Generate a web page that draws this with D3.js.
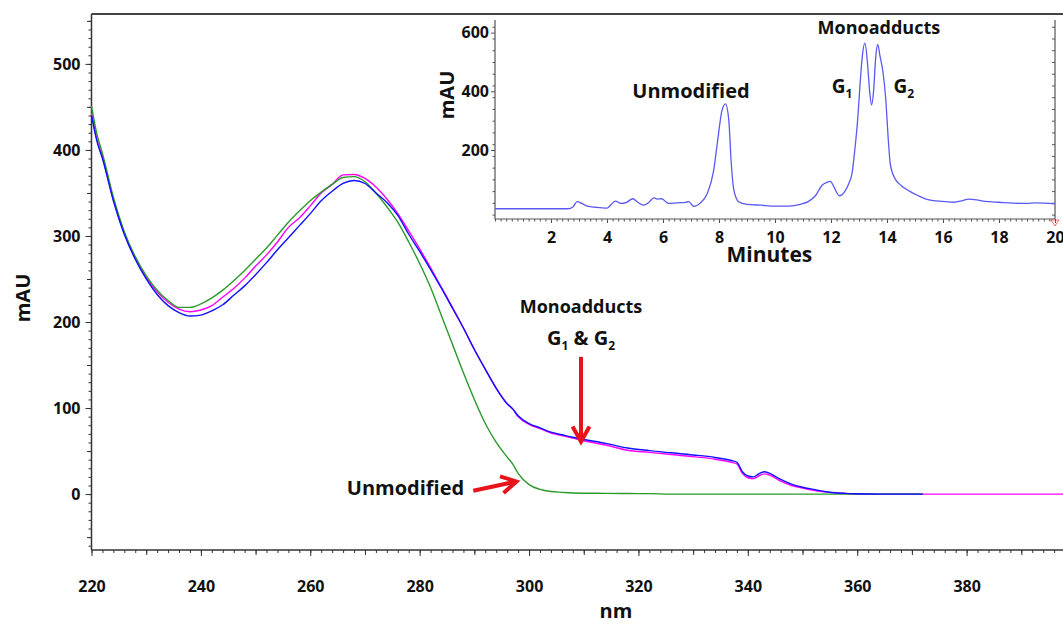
<!DOCTYPE html>
<html>
<head>
<meta charset="utf-8">
<script src="https://cdn.jsdelivr.net/npm/d3@7"></script>
<style>
  body { margin: 0; background: #fff; }
  text { font-family: "Open Sans", sans-serif; font-weight: bold; fill: #111; }
</style>
</head>
<body>
<svg id="chart" width="1063" height="625"></svg>
<script>
// UV spectra (nm vs mAU)
var wavelength = [220,221,222,224,226,228,230,232,234,236,238,240,242,244,246,248,250,252,254,256,258,260,262,264,266,268,270,272,274,276,278,280,282,284,286,288,290,292,294,296,297,298,300,302,304,306,308,310,314,318,322,326,330,334,337,338,339,340,341,342,343,344,346,348,350,352,354,356,358,360,364,368,372,380,390,400]
var unmodified = [451,418,396,345,305,276,254,237,225,217,217,221,228,237,248,260,273,286,301,316,329,341,351,360,368,369,363,350,334,316,293,268,240,207,174,141,110,82,60,43,35,24,11,5.5,3,2,1.2,1,0.8,0.6,0.5,0,0,0,0,0,0,0,0,0,0,0,0,0,0,0,0,0,0,0,0,0,0,null,null,null]
var monoG1 = [443,412,392,342,303,274,252,235,223,215,212,214,219,229,239,251,265,278,293,310,321,335,350,360,371,371.5,367,357,343,326,306,285,263,240,217,193,168,145,123,105,99,90,81,76,71,68,65,62,57,51,48.5,46,43.5,40.5,37,35,24,19,18,21,23.5,22,15,10,7,4.5,2.5,1.2,0.5,0,0,0,0,0,0,0]
var monoG2 = [440,410,390,341,302,273,250,232,219,211,207,208,213,220,231,242,255,269,284,298,312,326,341,352,361,364.5,361,350,339,324,302,282,261,239,216,193,168,145,123,105,99,91,82,77,72,69,66,63.5,59,53.5,50.5,48,45.5,42.5,39,37,26,21,20,23.5,26,24,17,11.5,8,5.5,3,1.5,0.8,0.3,0,0,0,null,null,null]

// HPLC chromatogram inset (minutes vs mAU)
var minutes = [0,2.6,2.8,2.93,3.1,3.3,3.6,4.0,4.15,4.3,4.5,4.7,4.92,5.1,5.3,5.5,5.67,5.8,5.95,6.2,6.5,6.8,6.92,7.1,7.34,7.58,7.81,7.94,8.11,8.23,8.35,8.43,8.53,8.7,9.0,9.5,10,10.5,10.9,11.2,11.45,11.68,11.85,11.98,12.1,12.3,12.5,12.64,12.75,12.85,12.95,13.05,13.13,13.21,13.3,13.38,13.45,13.52,13.6,13.67,13.75,13.85,13.95,14.05,14.12,14.3,14.48,14.8,15.08,15.5,16,16.4,16.7,16.92,17.2,17.5,18,18.5,19,19.3,20]
var chromAbs = [0,0,8,24,18,9,5,2,14,26,18,22,34,22,12,22,37,33,34,18,20,22,24,8,20,52,131,224,336,357,302,166,64,24,15,12,9,9,15,25,45,80,90,93,75,44,60,87,120,200,300,440,530,564,500,400,354,400,520,560,520,470,380,230,150,100,81,60,46,30,25,22,28,33,30,25,22,19,18,20,17]

var nmTicks = [220,240,260,280,300,320,340,360,380]
var mauTicks = [0,100,200,300,400,500]
var minuteTicks = [2,4,6,8,10,12,14,16,18,20]
var chromTicks = [200,400,600]

var svg = d3.select("#chart")
var x = d3.scaleLinear().domain([220, 400]).range([91.5, 1076])
var y = d3.scaleLinear().domain([-65, 558]).range([550, 14])

function tickLayer(axis, tr) {
    var g = svg.append("g").attr("transform", tr).call(axis)
    g.select(".domain").remove()
    g.selectAll("line").attr("stroke", "#333").attr("stroke-width", 1)
    return g
}

// main y axis
tickLayer(d3.axisLeft(y).tickValues(d3.range(-60, 551, 10)).tickSize(3).tickFormat(""), "translate(91.5,0)")
tickLayer(d3.axisLeft(y).tickValues(d3.range(-50, 551, 100)).tickSize(4.5).tickFormat(""), "translate(91.5,0)")
var yl = tickLayer(d3.axisLeft(y).tickValues(mauTicks).tickSize(6).tickPadding(5), "translate(91.5,0)")
yl.selectAll("text").style("font-size", "16px").attr("fill", "#111")

// main x axis
tickLayer(d3.axisBottom(x).tickValues(d3.range(220, 401, 2)).tickSize(3).tickFormat(""), "translate(0,550)")
tickLayer(d3.axisBottom(x).tickValues(d3.range(230, 401, 20)).tickSize(5).tickFormat(""), "translate(0,550)")
var xl = tickLayer(d3.axisBottom(x).tickValues(nmTicks).tickSize(6).tickPadding(25), "translate(0,550)")
xl.selectAll("text").style("font-size", "16px").attr("fill", "#111")

// frame
svg.append("line").attr("x1", x(220)).attr("x2", 1063).attr("y1", y(558)).attr("y2", y(558))
    .attr("stroke", "#444").attr("stroke-width", 1.8)
svg.append("line").attr("x1", x(220)).attr("x2", x(220)).attr("y1", y(558)).attr("y2", y(-65))
    .attr("stroke", "#333").attr("stroke-width", 1.5)
svg.append("line").attr("x1", x(220)).attr("x2", 1063).attr("y1", y(-65)).attr("y2", y(-65))
    .attr("stroke", "#333").attr("stroke-width", 1.5)

// spectra
var series = [
    {vals: monoG1, color: "#ff00ff"},
    {vals: unmodified, color: "#2a9a2a"},
    {vals: monoG2, color: "#1010ff"}
]
series.forEach(function(s) {
    var line = d3.line()
        .defined(function(d, i) { return s.vals[i] != null })
        .x(function(d) { return x(d) })
        .y(function(d, i) { return y(s.vals[i]) })
        .curve(d3.curveMonotoneX)
    svg.append("path").datum(wavelength).attr("d", line)
        .attr("fill", "none").attr("stroke", s.color).attr("stroke-width", 1.4)
})

// axis titles
svg.append("text").attr("transform", "translate(30,298) rotate(-90)").attr("text-anchor", "middle")
    .style("font-size", "20px").text("mAU")
svg.append("text").attr("x", 616).attr("y", 618).attr("text-anchor", "middle")
    .style("font-size", "20px").text("nm")

// annotations
var red = "#e8141b"
function arrow(x0, y0, x1, y1) {
    var a = Math.atan2(y1 - y0, x1 - x0), L = 15, W = 8.5
    var bx = x1 - L * Math.cos(a), by = y1 - L * Math.sin(a)
    var px = -Math.sin(a) * W, py = Math.cos(a) * W
    svg.append("line").attr("x1", x0).attr("y1", y0).attr("x2", x1 - 2 * Math.cos(a)).attr("y2", y1 - 2 * Math.sin(a))
        .attr("stroke", red).attr("stroke-width", 4)
    svg.append("path").attr("d", "M" + (bx + px) + "," + (by + py) + "L" + x1 + "," + y1 + "L" + (bx - px) + "," + (by - py))
        .attr("fill", "none").attr("stroke", red).attr("stroke-width", 4).attr("stroke-linejoin", "miter")
}
svg.append("text").attr("x", x(309.5)).attr("y", y(210.7)).attr("text-anchor", "middle")
    .style("font-size", "18px").text("Monoadducts")
var gg = svg.append("text").attr("x", x(309.5)).attr("y", y(173.5)).attr("text-anchor", "middle").style("font-size", "20px")
gg.append("tspan").text("G")
gg.append("tspan").text("1").attr("dy", 5).style("font-size", "12px")
gg.append("tspan").text(" & G").attr("dy", -5)
gg.append("tspan").text("2").attr("dy", 5).style("font-size", "12px")
arrow(x(309.5), y(159.5), x(309.5), y(61))

svg.append("text").attr("x", x(277.4)).attr("y", y(-0.8)).attr("text-anchor", "middle")
    .style("font-size", "20px").text("Unmodified")
arrow(x(289.8), y(3.8), x(297.7), y(14.6))

// inset chromatogram
var xi = d3.scaleLinear().domain([0, 20]).range([495, 1055])
var yi = d3.scaleLinear().domain([-35, 643]).range([219, 20])

svg.append("rect").attr("x", 436).attr("y", 16).attr("width", 627).attr("height", 250).attr("fill", "#fff")

function insetTicks(axis, tr) {
    var g = svg.append("g").attr("transform", tr).call(axis)
    g.select(".domain").remove()
    g.selectAll("line").attr("stroke", "#555").attr("stroke-width", 1)
    return g
}
insetTicks(d3.axisBottom(xi).tickValues(d3.range(0, 20.01, 0.2)).tickSize(2.5).tickFormat(""), "translate(0,219)")
var xil = insetTicks(d3.axisBottom(xi).tickValues(minuteTicks).tickSize(4).tickPadding(9), "translate(0,219)")
xil.selectAll("text").style("font-size", "16px").attr("fill", "#111")
insetTicks(d3.axisLeft(yi).tickValues(d3.range(-20, 641, 40)).tickSize(2.5).tickFormat(""), "translate(495,0)")
var yil = insetTicks(d3.axisLeft(yi).tickValues(chromTicks).tickSize(4).tickPadding(2), "translate(495,0)")
yil.selectAll("text").style("font-size", "16px").attr("fill", "#111")
insetTicks(d3.axisRight(yi).tickValues(d3.range(-20, 641, 40)).tickSize(-3).tickFormat(""), "translate(1055,0)")

svg.append("path").attr("d", "M495,20V219H1055V20").attr("fill", "none").attr("stroke", "#555").attr("stroke-width", 1.2)
svg.append("path").attr("d", "M1051,220L1059,220L1055,226Z").attr("fill", "none").attr("stroke", "#ff4040").attr("stroke-width", 0.8)

var chromLine = d3.line()
    .x(function(d) { return xi(d) })
    .y(function(d, i) { return yi(chromAbs[i]) })
    .curve(d3.curveMonotoneX)
svg.append("path").datum(minutes).attr("d", chromLine)
    .attr("fill", "none").attr("stroke", "#5a5af2").attr("stroke-width", 1.3)

svg.append("text").attr("transform", "translate(454,95) rotate(-90)").attr("text-anchor", "middle")
    .style("font-size", "20px").text("mAU")
svg.append("text").attr("x", xi(9.8)).attr("y", 262).attr("text-anchor", "middle")
    .style("font-size", "21px").text("Minutes")
svg.append("text").attr("x", xi(7.0)).attr("y", yi(376)).attr("text-anchor", "middle")
    .style("font-size", "20px").text("Unmodified")
svg.append("text").attr("x", xi(13.71)).attr("y", yi(594)).attr("text-anchor", "middle")
    .style("font-size", "18px").text("Monoadducts")
var g1 = svg.append("text").attr("x", xi(12.03)).attr("y", yi(393)).style("font-size", "19px")
g1.append("tspan").text("G")
g1.append("tspan").text("1").attr("dy", 5).style("font-size", "12px")
var g2 = svg.append("text").attr("x", xi(14.23)).attr("y", yi(393)).style("font-size", "19px")
g2.append("tspan").text("G")
g2.append("tspan").text("2").attr("dy", 5).style("font-size", "12px")
</script>
</body>
</html>
